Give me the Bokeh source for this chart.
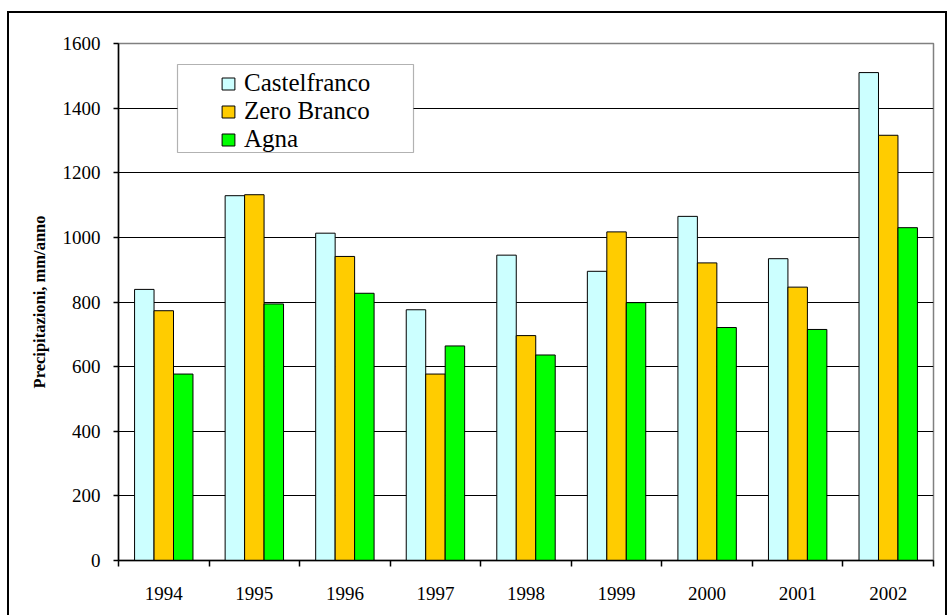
from bokeh.plotting import figure
from bokeh.layouts import column
from bokeh.models import (ColumnDataSource, Range1d, FixedTicker, Legend, LegendItem,
                          BoxAnnotation)
from bokeh.transform import dodge
from bokeh.embed import file_html
from bokeh.resources import INLINE

years = ["1994", "1995", "1996", "1997", "1998", "1999", "2000", "2001", "2002"]
castelfranco = [839, 1129, 1013, 776, 945, 895, 1065, 934, 1510]
zero_branco = [773, 1132, 941, 577, 696, 1017, 921, 846, 1316]
agna = [577, 794, 827, 664, 636, 798, 721, 715, 1030]
y_ticks = [0, 200, 400, 600, 800, 1000, 1200, 1400, 1600]

pos = [i + 0.5 for i in range(len(years))]
src = ColumnDataSource(dict(x=pos, c=castelfranco, z=zero_branco, a=agna))

p = figure(width=936, height=602, output_backend="svg", toolbar_location=None,
           x_range=Range1d(0, len(years)), y_range=Range1d(0, 1600),
           min_border_left=109, min_border_right=12, min_border_top=30,
           min_border_bottom=55)
p.background_fill_color = "white"
p.border_fill_color = "white"
p.outline_line_color = "#808080"
p.outline_line_width = 1.5

W = 0.215
r1 = p.vbar(x=dodge("x", -W, range=p.x_range), top="c", width=W, source=src,
            fill_color="#CCFFFF", line_color="black", line_width=1)
r2 = p.vbar(x=dodge("x", 0, range=p.x_range), top="z", width=W, source=src,
            fill_color="#FFCC00", line_color="black", line_width=1)
r3 = p.vbar(x=dodge("x", W, range=p.x_range), top="a", width=W, source=src,
            fill_color="#00FF00", line_color="black", line_width=1)

# axes
xa = p.xaxis[0]
xa.ticker = FixedTicker(ticks=pos, minor_ticks=list(range(len(years) + 1)))
xa.major_label_overrides = {p_: y for p_, y in zip(pos, years)}
xa.major_tick_out = 0
xa.major_tick_in = 0
xa.minor_tick_out = 6
xa.minor_tick_in = 0
xa.minor_tick_line_color = "black"
xa.minor_tick_line_width = 1.5
xa.axis_line_color = "black"
xa.axis_line_width = 1.5
xa.major_label_standoff = 20
xa.major_label_text_font = "Liberation Serif"
xa.major_label_text_font_size = "19px"
xa.major_label_text_color = "black"

ya = p.yaxis[0]
ya.ticker = FixedTicker(ticks=y_ticks)
ya.major_tick_out = 5
ya.major_tick_in = 0
ya.minor_tick_out = 0
ya.minor_tick_in = 0
ya.major_tick_line_color = "black"
ya.major_tick_line_width = 1.5
ya.axis_line_color = "black"
ya.axis_line_width = 1.5
ya.major_label_standoff = 13
ya.major_label_text_font = "Liberation Serif"
ya.major_label_text_font_size = "19px"
ya.major_label_text_color = "black"
ya.axis_label = "Precipitazioni, mm/anno"
ya.axis_label_text_font = "Liberation Serif"
ya.axis_label_text_font_style = "bold"
ya.axis_label_text_font_size = "16.5px"
ya.axis_label_text_color = "black"
ya.axis_label_standoff = 11

p.xgrid.grid_line_color = None
p.ygrid.ticker = FixedTicker(ticks=y_ticks)
p.ygrid.grid_line_color = "black"
p.ygrid.grid_line_width = 1

# legend frame
legend_box = BoxAnnotation(left=168, right=404, top=51, bottom=139,
                           left_units="canvas", right_units="canvas",
                           top_units="canvas", bottom_units="canvas",
                           fill_color="white", fill_alpha=1,
                           line_color="black", line_width=1.2)
p.add_layout(legend_box)

legend = Legend(items=[LegendItem(label="Castelfranco", renderers=[r1]),
                       LegendItem(label="Zero Branco", renderers=[r2]),
                       LegendItem(label="Agna", renderers=[r3])],
                location=(102, 407), margin=0, padding=0, spacing=0,
                glyph_width=16, glyph_height=15, label_standoff=8,
                label_text_font="Liberation Serif", label_text_font_size="25px",
                label_text_color="black",
                background_fill_alpha=0, border_line_alpha=0)
p.add_layout(legend, "center")

# outer chart border drawn around the figure
layout = column(p, styles={"margin-left": "7px", "margin-top": "11px",
                           "border-top": "2px solid black",
                           "border-left": "2px solid black",
                           "border-right": "2px solid black",
                           "background": "white"})

open("out.html", "w").write(file_html(layout, INLINE))
